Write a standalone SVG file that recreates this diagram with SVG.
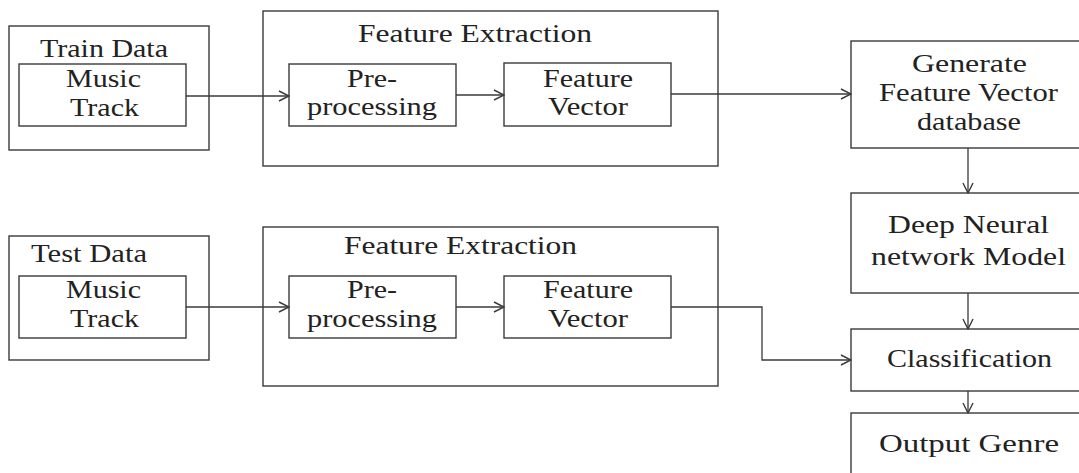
<svg xmlns="http://www.w3.org/2000/svg" width="1079" height="473" viewBox="0 0 1079 473">
<style>
  .box { fill: none; stroke: #3a3a3a; stroke-width: 1.4; }
  .lbl { font-family: "Liberation Serif", "Times New Roman", serif; font-size: 25px; fill: #222; text-anchor: middle; }
  .conn { fill: none; stroke: #3a3a3a; stroke-width: 1.3; }
</style>
<defs>
  <marker id="arr" viewBox="0 0 12 12" refX="11" refY="6" markerWidth="12" markerHeight="12" markerUnits="userSpaceOnUse" orient="auto">
    <path d="M1,1 L11,6 L1,11" fill="none" stroke="#3a3a3a" stroke-width="1.4"/>
  </marker>
</defs>
<rect width="1079" height="473" fill="#ffffff"/>

<g id="train-data">
  <rect class="box" x="9" y="26" width="200" height="124"/>
  <text class="lbl" x="104" y="57" textLength="128" lengthAdjust="spacingAndGlyphs">Train Data</text>
</g>
<g id="train-music-track">
  <rect class="box" x="19" y="64" width="167" height="62"/>
  <text class="lbl" x="103.5" y="87" textLength="75" lengthAdjust="spacingAndGlyphs">Music</text>
  <text class="lbl" x="104.5" y="116" textLength="69" lengthAdjust="spacingAndGlyphs">Track</text>
</g>
<g id="feature-extraction-1">
  <rect class="box" x="263" y="11" width="455" height="155"/>
  <text class="lbl" x="475" y="42" textLength="234" lengthAdjust="spacingAndGlyphs">Feature Extraction</text>
</g>
<g id="preprocessing-1">
  <rect class="box" x="289" y="64" width="167" height="62"/>
  <text class="lbl" x="372" y="87" textLength="50" lengthAdjust="spacingAndGlyphs">Pre-</text>
  <text class="lbl" x="372" y="115" textLength="130" lengthAdjust="spacingAndGlyphs">processing</text>
</g>
<g id="feature-vector-1">
  <rect class="box" x="504" y="63" width="167" height="63"/>
  <text class="lbl" x="588" y="87" textLength="90" lengthAdjust="spacingAndGlyphs">Feature</text>
  <text class="lbl" x="588" y="115" textLength="80" lengthAdjust="spacingAndGlyphs">Vector</text>
</g>
<g id="generate-db">
  <rect class="box" x="851" y="41" width="234" height="107"/>
  <text class="lbl" x="969.5" y="72" textLength="115" lengthAdjust="spacingAndGlyphs">Generate</text>
  <text class="lbl" x="968.5" y="101" textLength="179" lengthAdjust="spacingAndGlyphs">Feature Vector</text>
  <text class="lbl" x="969" y="130" textLength="104" lengthAdjust="spacingAndGlyphs">database</text>
</g>
<g id="dnn-model">
  <rect class="box" x="851" y="193" width="234" height="100"/>
  <text class="lbl" x="968.5" y="233" textLength="161" lengthAdjust="spacingAndGlyphs">Deep Neural</text>
  <text class="lbl" x="968.5" y="265" textLength="195" lengthAdjust="spacingAndGlyphs">network Model</text>
</g>
<g id="test-data">
  <rect class="box" x="9" y="236" width="200" height="124"/>
  <text class="lbl" x="89" y="262" textLength="116" lengthAdjust="spacingAndGlyphs">Test Data</text>
</g>
<g id="test-music-track">
  <rect class="box" x="19" y="276" width="167" height="62"/>
  <text class="lbl" x="103.5" y="298" textLength="75" lengthAdjust="spacingAndGlyphs">Music</text>
  <text class="lbl" x="104.5" y="327" textLength="69" lengthAdjust="spacingAndGlyphs">Track</text>
</g>
<g id="feature-extraction-2">
  <rect class="box" x="263" y="227" width="455" height="159"/>
  <text class="lbl" x="460.5" y="254" textLength="233" lengthAdjust="spacingAndGlyphs">Feature Extraction</text>
</g>
<g id="preprocessing-2">
  <rect class="box" x="289" y="276" width="167" height="62"/>
  <text class="lbl" x="372" y="298" textLength="50" lengthAdjust="spacingAndGlyphs">Pre-</text>
  <text class="lbl" x="372" y="327" textLength="130" lengthAdjust="spacingAndGlyphs">processing</text>
</g>
<g id="feature-vector-2">
  <rect class="box" x="504" y="276" width="167" height="62"/>
  <text class="lbl" x="588" y="298" textLength="90" lengthAdjust="spacingAndGlyphs">Feature</text>
  <text class="lbl" x="588" y="327" textLength="80" lengthAdjust="spacingAndGlyphs">Vector</text>
</g>
<g id="classification">
  <rect class="box" x="851" y="329" width="234" height="62"/>
  <text class="lbl" x="969.5" y="367" textLength="165" lengthAdjust="spacingAndGlyphs">Classification</text>
</g>
<g id="output-genre">
  <rect class="box" x="851" y="413" width="234" height="70"/>
  <text class="lbl" x="969" y="452" textLength="180" lengthAdjust="spacingAndGlyphs">Output Genre</text>
</g>

<g id="connectors">
  <path class="conn" d="M186,96 L289,96" marker-end="url(#arr)"/>
  <path class="conn" d="M456,95 L504,95" marker-end="url(#arr)"/>
  <path class="conn" d="M671,94 L851,94" marker-end="url(#arr)"/>
  <path class="conn" d="M968,148 L968,193" marker-end="url(#arr)"/>
  <path class="conn" d="M968,293 L968,329" marker-end="url(#arr)"/>
  <path class="conn" d="M968,391 L968,413" marker-end="url(#arr)"/>
  <path class="conn" d="M186,307 L289,307" marker-end="url(#arr)"/>
  <path class="conn" d="M456,307 L504,307" marker-end="url(#arr)"/>
  <path class="conn" d="M671,307 L762,307 L762,360 L851,360" marker-end="url(#arr)"/>
</g>
</svg>
